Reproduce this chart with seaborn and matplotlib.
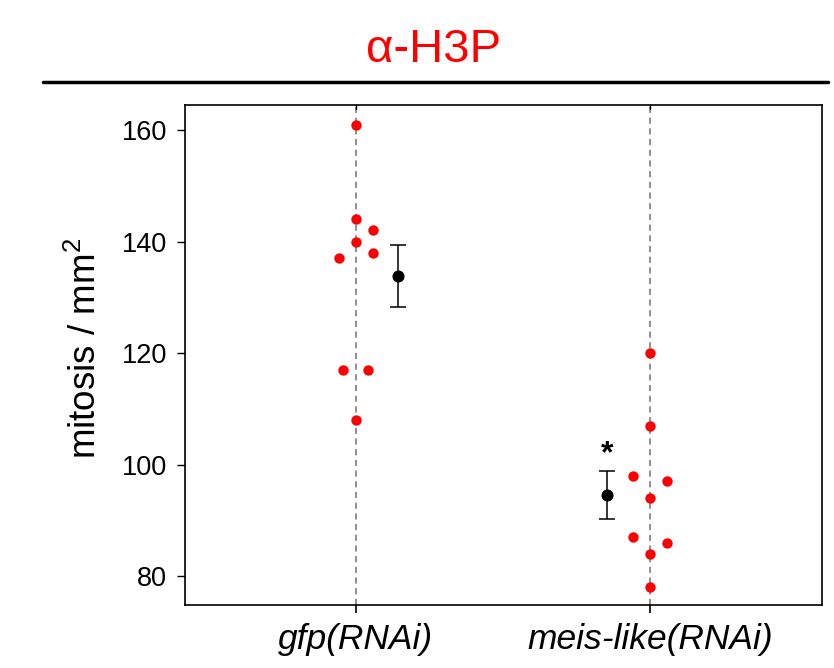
import numpy as np
import pandas as pd
import matplotlib
matplotlib.use("Agg")
import matplotlib.pyplot as plt
import seaborn as sns

# ---- data ----
categories = ["gfp(RNAi)", "meis-like(RNAi)"]
gfp_values = [161, 144, 142, 140, 138, 137, 117, 117, 108]
meis_values = [120, 107, 98, 97, 94, 87, 86, 84, 78]
y_ticks = [80, 100, 120, 140, 160]
title_text = "α-H3P"
y_label = "mitosis / mm$^2$"


def column_swarm(values, min_gap=4.0, step=0.058, descending=False):
    """Prism-like column beeswarm: tied values are spread symmetrically
    about the centre; every other point goes to the column nearest the
    centre that has no point closer than min_gap (data units)."""
    vals = np.asarray(values, dtype=float)
    order = np.argsort(-vals if descending else vals, kind="stable")
    cols = [0, 1, -1, 2, -2]
    placed = {c: [] for c in cols}
    out = np.zeros(len(vals))
    uniq, counts = np.unique(vals, return_counts=True)
    ties = {u: c for u, c in zip(uniq, counts) if c > 1}
    tie_seen = {u: 0 for u in ties}
    for idx in order:
        v = vals[idx]
        if v in ties:
            k = ties[v]
            out[idx] = (tie_seen[v] - (k - 1) / 2) * step * 1.5
            tie_seen[v] += 1
            continue
        for c in cols:
            if all(abs(v - p) >= min_gap for p in placed[c]):
                placed[c].append(v)
                out[idx] = c * step
                break
    return out


swarm_opts = [dict(min_gap=3.5, descending=True), dict(min_gap=4.5, descending=False)]
rows = []
for i, vals in enumerate([gfp_values, meis_values]):
    offs = column_swarm(vals, **swarm_opts[i])
    for v, o in zip(vals, offs):
        rows.append({"group": categories[i], "pos": i + o, "value": v})
df = pd.DataFrame(rows)

sns.set_theme(style="ticks")
plt.rcParams["font.family"] = ["Liberation Sans", "DejaVu Sans"]
plt.rcParams["mathtext.fontset"] = "custom"
plt.rcParams["mathtext.rm"] = "Liberation Sans"
for k in ["text.color", "axes.labelcolor", "xtick.color", "ytick.color",
          "axes.edgecolor"]:
    plt.rcParams[k] = "black"

fig = plt.figure(figsize=(8.34, 6.68), dpi=100)
ax = fig.add_axes([185 / 834, 63 / 668, 637 / 834, 500 / 668])

# dashed category guides
for i in range(len(categories)):
    ax.axvline(i, color="#707070", lw=1.1, ls=(0, (4, 3)), zorder=0)

sns.scatterplot(data=df, x="pos", y="value", color="red", s=56,
                linewidth=0, ax=ax, zorder=3, legend=False)

# mean +/- SEM beside each group
offsets = [0.145, -0.145]
for i, vals in enumerate([gfp_values, meis_values]):
    v = np.asarray(vals, dtype=float)
    m = v.mean()
    se = v.std(ddof=1) / np.sqrt(len(v))
    ax.errorbar(i + offsets[i], m, yerr=se, fmt="o", color="black", ms=7.7,
                capsize=5.5, elinewidth=1.1, capthick=1.1, zorder=4)
    if i == 1:
        ax.annotate("*", xy=(i + offsets[i], m + se), xytext=(0, 1),
                    textcoords="offset points", ha="center", va="bottom",
                    fontsize=23, fontweight="bold")

ax.set_xlim(-0.58, 1.585)
ax.set_ylim(74.8, 164.5)
ax.set_yticks(y_ticks)
ax.set_xlabel("")
ax.set_ylabel(y_label, fontsize=26.5, labelpad=13)
ax.yaxis.label.set_y(0.513)
ax.set_xticks(range(len(categories)))
ax.set_xticklabels(categories, fontsize=25.5, style="italic")
ax.tick_params(axis="y", labelsize=19.5, direction="out", length=6, width=1,
               left=True, right=False, pad=7)
ax.tick_params(axis="x", direction="out", length=6, width=1.2, bottom=True,
               top=False, pad=7)
for i in range(len(categories)):
    ax.plot([i, i], [1, 0.993], transform=ax.get_xaxis_transform(),
            color="black", lw=1.0, clip_on=False)
for s in ax.spines.values():
    s.set_visible(True)
    s.set_color("black")
    s.set_linewidth(1.2)

# title and rule
fig.text(434 / 834, 1 - 50 / 668, title_text, color="red", fontsize=34,
         ha="center", va="center")
fig.add_artist(plt.Line2D([43 / 834, 828 / 834], [1 - 82 / 668, 1 - 82 / 668],
                          color="black", lw=2.5, transform=fig.transFigure))

fig.savefig("out.png", dpi=100)
